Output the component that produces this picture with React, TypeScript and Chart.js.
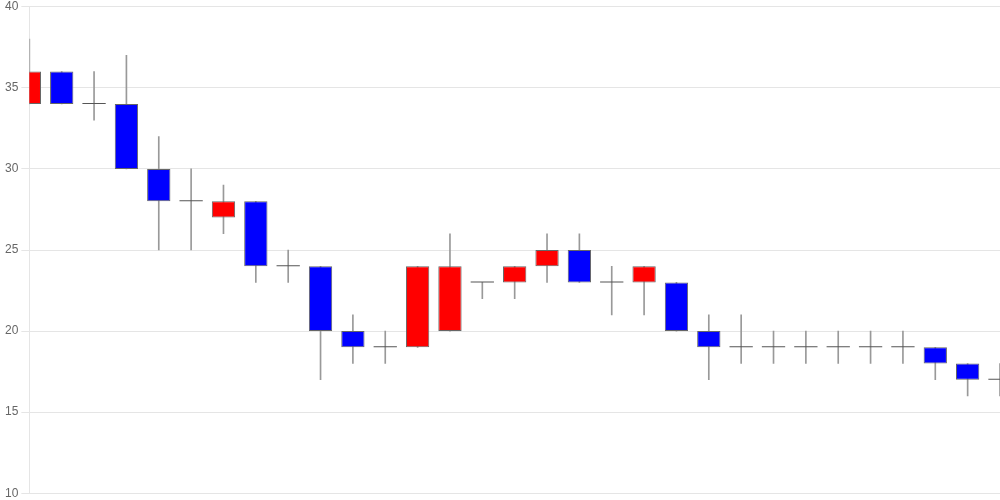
import React, { useEffect, useRef } from "react";
import { Chart, registerables } from "chart.js";

Chart.register(...registerables);

const labels: string[] = Array.from({ length: 31 }, (_, i) => String(i + 1));
const opens: number[] = [34, 36, 34, 34, 30, 28, 27, 28, 24, 24, 20, 19, 19, 20, 23, 23, 24, 25, 23, 23, 23, 20, 19, 19, 19, 19, 19, 19, 19, 18, 17];
const highs: number[] = [38, 36, 36, 37, 32, 30, 29, 28, 25, 24, 21, 20, 24, 26, 23, 24, 26, 26, 24, 24, 23, 21, 21, 20, 20, 20, 20, 20, 19, 18, 18];
const lows: number[] = [34, 34, 33, 30, 25, 25, 26, 23, 23, 17, 18, 18, 19, 20, 22, 22, 23, 23, 21, 21, 20, 17, 18, 18, 18, 18, 18, 18, 17, 16, 16];
const closes: number[] = [36, 34, 34, 30, 28, 28, 28, 24, 24, 20, 19, 19, 24, 24, 23, 24, 25, 23, 23, 24, 20, 19, 19, 19, 19, 19, 19, 19, 18, 17, 17];
const yTicks = { min: 10, max: 40, step: 5 };

export default function App() {
  const ref = useRef<HTMLCanvasElement | null>(null);
  useEffect(() => {
    if (!ref.current) return;
    const bodyColor = (i: number) =>
      closes[i] > opens[i] ? "#ff0000" : closes[i] < opens[i] ? "#0000ff" : "#555555";
    const chart = new Chart(ref.current, {
      type: "bar",
      data: {
        labels,
        datasets: [
          {
            label: "body",
            data: opens.map((o, i) => [o, closes[i]]) as any,
            backgroundColor: opens.map((_, i) => bodyColor(i)),
            borderColor: "#666666",
            borderWidth: opens.map((o, i) => (o === closes[i] ? 0 : 1)),
            borderSkipped: false,
            minBarLength: 1,
            grouped: false,
            categoryPercentage: 0.8,
            barPercentage: 0.9,
            order: 0,
          },
          {
            label: "wick",
            data: lows.map((l, i) => [l, highs[i]]) as any,
            backgroundColor: "#999999",
            borderWidth: 0,
            barThickness: 1,
            grouped: false,
            order: 1,
          },
        ],
      },
      options: {
        animation: false,
        responsive: true,
        maintainAspectRatio: false,
        layout: { padding: { top: 0, bottom: 0, left: 2, right: 0 } },
        plugins: { legend: { display: false }, tooltip: { enabled: false } },
        scales: {
          x: {
            display: false,
            offset: false,
          },
          y: {
            min: yTicks.min,
            max: yTicks.max,
            ticks: { stepSize: yTicks.step, color: "#666", font: { size: 12, lineHeight: 0.62 } },
            grid: { color: "rgba(0,0,0,0.1)" },
          },
        },
      },
    });
    return () => chart.destroy();
  }, []);
  return (
    <div style={{ position: "fixed", left: 0, top: 0, width: 1000, height: 500 }}>
      <canvas ref={ref} />
    </div>
  );
}
